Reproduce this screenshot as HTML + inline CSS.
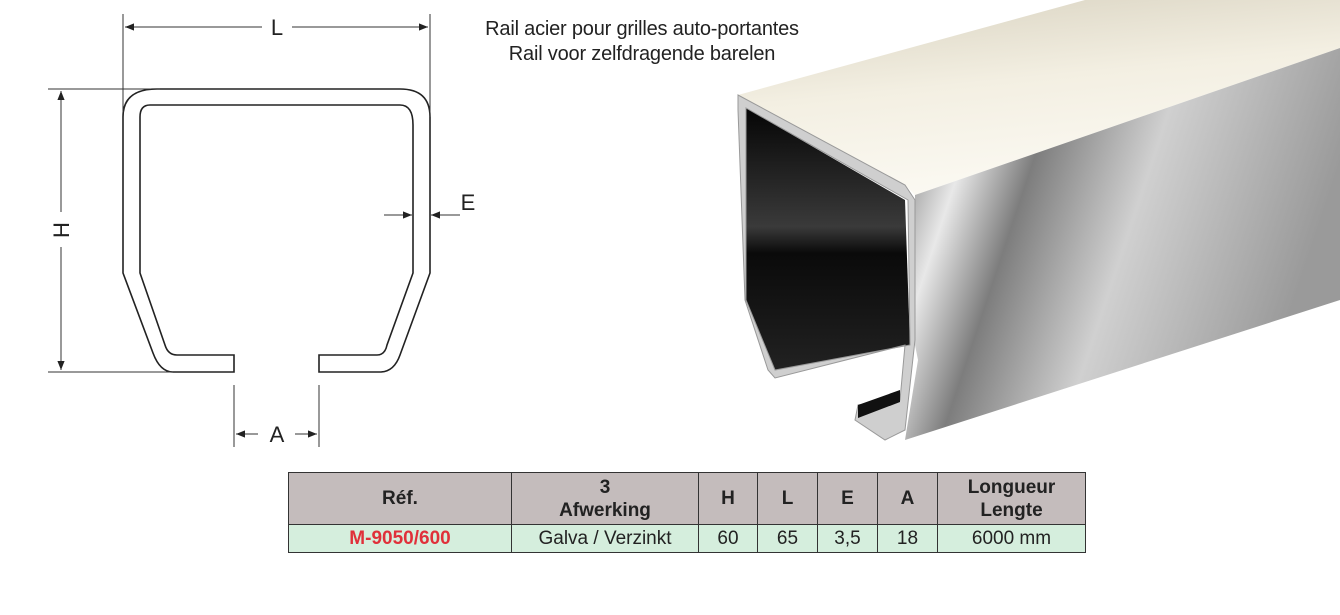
<!DOCTYPE html>
<html><head><meta charset="utf-8"><style>
body{margin:0;width:1340px;height:615px;background:#fff;position:relative;overflow:hidden;font-family:"Liberation Sans",sans-serif}
.t{position:absolute;font-size:20px;color:#222;text-align:center;width:440px;left:422px;letter-spacing:-0.2px}
table{position:absolute;left:288px;top:472px;border-collapse:collapse;font-size:19px;color:#222}
td{border:1.5px solid #333;text-align:center;padding:0}
tr.h td{background:#c4bcbc;font-weight:bold;height:51px;line-height:23px}
tr.r td{background:#d5eedd;height:27px}
</style></head><body>
<svg width="1340" height="615" style="position:absolute;left:0;top:0">
<defs>
<marker id="a" viewBox="0 0 10 10" refX="10" refY="5" markerWidth="9" markerHeight="9" orient="auto-start-reverse"><path d="M0,1 L10,5 L0,9 z" fill="#222"/></marker>
<linearGradient id="top" x1="0" y1="0" x2="0.3" y2="1"><stop offset="0" stop-color="#d8d2c0"/><stop offset="0.5" stop-color="#f3efe2"/><stop offset="1" stop-color="#fbf9f2"/></linearGradient>
<linearGradient id="side" x1="0" y1="0" x2="1" y2="0.3"><stop offset="0" stop-color="#5a5a5a"/><stop offset="0.2" stop-color="#e8e8e8"/><stop offset="0.35" stop-color="#7d7d7d"/><stop offset="0.6" stop-color="#d0d0d0"/><stop offset="1" stop-color="#9a9a9a"/></linearGradient>
<linearGradient id="in" x1="0" y1="0" x2="0" y2="1"><stop offset="0" stop-color="#050505"/><stop offset="0.45" stop-color="#3a3a3a"/><stop offset="0.55" stop-color="#0a0a0a"/><stop offset="1" stop-color="#222"/></linearGradient>
</defs>
<g fill="none" stroke="#222" stroke-width="1.6">
<path d="M157,89 L400,89 Q430,89 430,117 L430,273 L400,355 Q394,372 380,372 L319,372 L319,355 L377,355 Q385,355 387,345 L413,273 L413,125 Q413,105 400,105 L150,105 Q140,105 140,117 L140,273 L165,345 Q168,355 177,355 L234,355 L234,372 L173,372 Q160,372 153,353 L123,273 L123,117 Q123,89 157,89 Z"/>
</g>
<g stroke="#333" stroke-width="1">
<line x1="123" y1="14" x2="123" y2="112"/><line x1="430" y1="14" x2="430" y2="117"/>
<line x1="48" y1="89" x2="160" y2="89"/><line x1="48" y1="372" x2="173" y2="372"/>
<line x1="234" y1="385" x2="234" y2="447"/><line x1="319" y1="385" x2="319" y2="447"/>
<line x1="125" y1="27" x2="262" y2="27" marker-start="url(#a)"/><line x1="292" y1="27" x2="428" y2="27" marker-end="url(#a)"/>
<line x1="61" y1="91" x2="61" y2="212" marker-start="url(#a)"/><line x1="61" y1="247" x2="61" y2="370" marker-end="url(#a)"/>
<line x1="384" y1="215" x2="412" y2="215" marker-end="url(#a)"/><line x1="460" y1="215" x2="431" y2="215" marker-end="url(#a)"/>
<line x1="236" y1="434" x2="258" y2="434" marker-start="url(#a)"/><line x1="295" y1="434" x2="317" y2="434" marker-end="url(#a)"/>
</g>
<g font-family="Liberation Sans" font-size="22" fill="#222" text-anchor="middle">
<text x="277" y="35">L</text><text x="277" y="442">A</text><text x="468" y="210">E</text>
<text transform="translate(69,230) rotate(-90)">H</text>
</g>
<polygon points="738,95 1085,0 1340,0 1340,48 915,195 905,185" fill="url(#top)"/>
<polygon points="915,195 1340,48 1340,300 905,440 918,360 914,340" fill="url(#side)"/>
<polygon points="746,108 905,200 910,345 775,372 746,300" fill="url(#in)"/>
<path d="M738,95 L905,185 L915,200 L915,340 L905,430 L885,440 L855,420 L858,405 L900,400 L905,345 L775,378 L768,370 L745,300 L738,110 Z M746,108 L746,300 L775,370 L910,345 L908,200 Z" fill="#cfcfcf" fill-rule="evenodd" stroke="#999" stroke-width="1"/>
<polygon points="858,405 900,390 900,402 858,418" fill="#111"/>
</svg>
<div class="t" style="top:18px">Rail acier pour grilles auto-portantes</div>
<div class="t" style="top:43px">Rail voor zelfdragende barelen</div>
<table>
<tr class="h"><td style="width:222px">Réf.</td><td style="width:186px">3<br>Afwerking</td><td style="width:58px">H</td><td style="width:59px">L</td><td style="width:59px">E</td><td style="width:59px">A</td><td style="width:147px">Longueur<br>Lengte</td></tr>
<tr class="r"><td style="color:#e0303a;font-weight:bold">M-9050/600</td><td>Galva / Verzinkt</td><td>60</td><td>65</td><td>3,5</td><td>18</td><td>6000 mm</td></tr>
</table>
</body></html>
